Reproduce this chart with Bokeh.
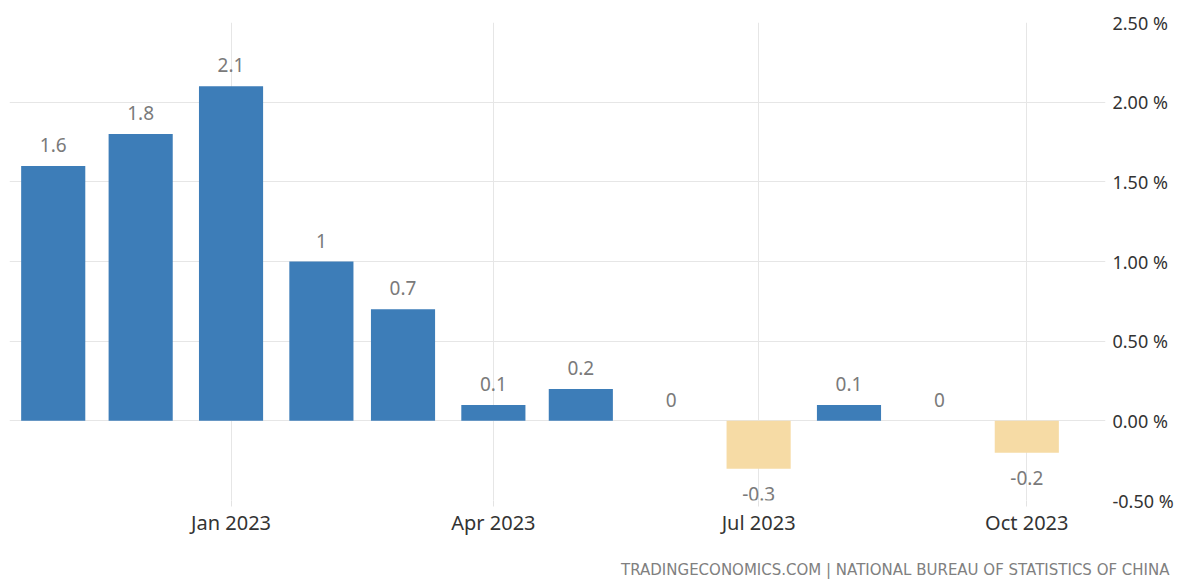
from datetime import datetime
from bokeh.plotting import figure
from bokeh.models import (ColumnDataSource, Range1d, FixedTicker, DatetimeTickFormatter,
                          CustomJSTickFormatter, LinearAxis, Title)
from bokeh.core.properties import value
from bokeh.embed import file_html
from bokeh.resources import INLINE

months = ["2022-11", "2022-12", "2023-01", "2023-02", "2023-03", "2023-04",
          "2023-05", "2023-06", "2023-07", "2023-08", "2023-09", "2023-10"]
values = [1.6, 1.8, 2.1, 1.0, 0.7, 0.1, 0.2, 0.0, -0.3, 0.1, 0.0, -0.2]
x_tick_months = ["2023-01", "2023-04", "2023-07", "2023-10"]
y_ticks = [-0.5, 0.0, 0.5, 1.0, 1.5, 2.0, 2.5]

FONT = "Noto Sans"
BLUE = "#3d7db8"
TAN = "#f6dba5"

def to_dt(s):
    return datetime.strptime(s + "-01", "%Y-%m-%d")

xs = [to_dt(m) for m in months]
colors = [BLUE if v >= 0 else TAN for v in values]
labels = [f"{v:g}" for v in values]

pos = [i for i, v in enumerate(values) if v >= 0]
neg = [i for i, v in enumerate(values) if v < 0]

src = ColumnDataSource(dict(x=xs, top=values, color=colors, label=labels))
src_pos = ColumnDataSource(dict(x=[xs[i] for i in pos], y=[values[i] for i in pos],
                                label=[labels[i] for i in pos]))
src_neg = ColumnDataSource(dict(x=[xs[i] for i in neg], y=[values[i] for i in neg],
                                label=[labels[i] for i in neg]))

p = figure(frame_width=1096, frame_height=478, x_axis_type="datetime",
           output_backend="svg", toolbar_location=None, y_axis_location=None,
           x_range=Range1d(datetime(2022, 10, 17), datetime(2023, 10, 28)),
           y_range=Range1d(-0.5, 2.5),
           min_border_left=9, min_border_top=22, min_border_right=0, min_border_bottom=0)
p.outline_line_color = None
p.background_fill_color = "white"
p.border_fill_color = "white"

bar_w = 22 * 86400000
p.vbar(x="x", top="top", bottom=0, width=bar_w, color="color", source=src, line_color=None)

p.text(x="x", y="y", text="label", source=src_pos, text_align="center",
       text_baseline="middle", y_offset=-21, text_color="#7a7a7a",
       text_font=value(FONT), text_font_size="19px")
p.text(x="x", y="y", text="label", source=src_neg, text_align="center",
       text_baseline="middle", y_offset=25, text_color="#7a7a7a",
       text_font=value(FONT), text_font_size="19px")

# x axis
xticks = [to_dt(m).timestamp() * 1000 for m in x_tick_months]
xa = p.xaxis[0]
xa.ticker = FixedTicker(ticks=xticks)
xa.formatter = DatetimeTickFormatter(months="%b %Y", days="%b %Y", years="%b %Y")
xa.axis_line_color = None
xa.major_tick_out = 6
xa.major_tick_in = 0
xa.major_tick_line_color = "#e3e3e3"
xa.minor_tick_line_color = None
xa.major_label_standoff = 2
xa.major_label_text_font = FONT
xa.major_label_text_font_size = "20px"
xa.major_label_text_color = "#333333"

# y axis on the right
ya = LinearAxis(ticker=FixedTicker(ticks=y_ticks),
                formatter=CustomJSTickFormatter(code="return tick.toFixed(2) + ' %';"))
ya.axis_line_color = None
ya.major_tick_line_color = None
ya.major_tick_out = 0
ya.major_tick_in = 0
ya.minor_tick_line_color = None
ya.major_label_standoff = 7
ya.major_label_text_font = FONT
ya.major_label_text_font_size = "18px"
ya.major_label_text_color = "#333333"
p.add_layout(ya, "right")

p.xgrid.ticker = FixedTicker(ticks=xticks)
p.xgrid.grid_line_color = "#e6e6e6"
p.ygrid.ticker = FixedTicker(ticks=y_ticks)
p.ygrid.grid_line_color = "#e6e6e6"

credit = Title(text="TRADINGECONOMICS.COM | NATIONAL BUREAU OF STATISTICS OF CHINA",
               align="right", text_font="DejaVu Sans", text_font_size="15px",
               text_color="#808080", text_font_style="normal", standoff=40, offset=-64)
p.add_layout(credit, "below")

open("out.html", "w").write(file_html(p, INLINE))
